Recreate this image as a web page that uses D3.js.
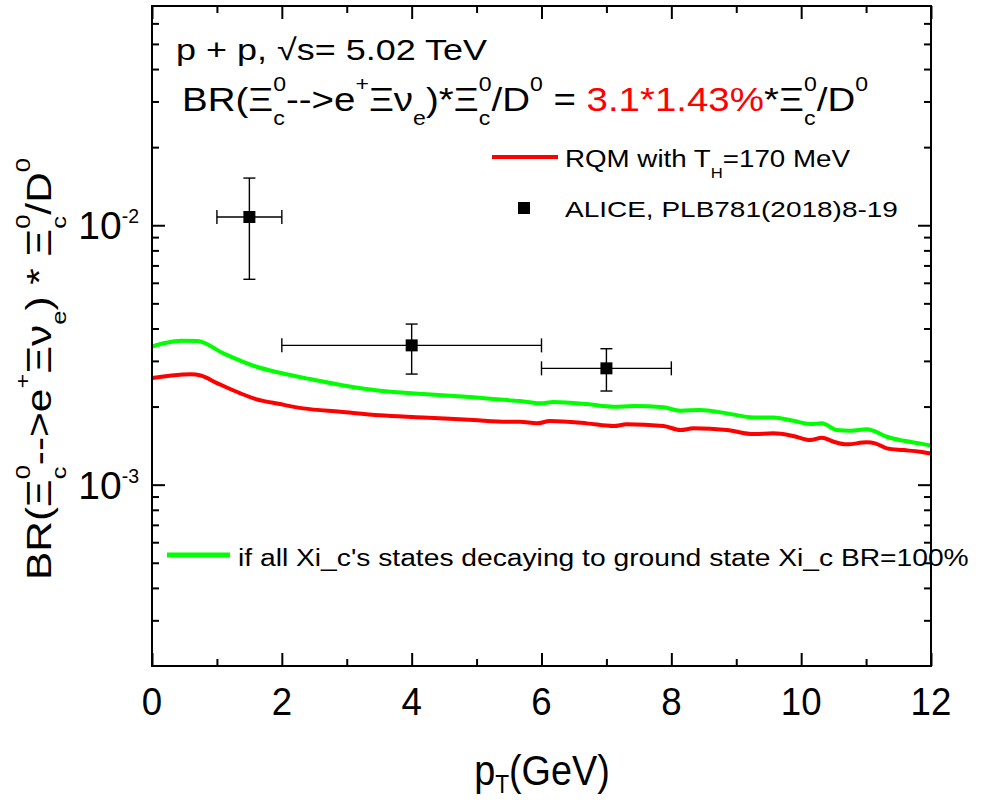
<!DOCTYPE html>
<html>
<head>
<meta charset="utf-8">
<script src="https://cdn.jsdelivr.net/npm/d3@7/dist/d3.min.js"></script>
<style>
  body { margin: 0; background: #fff; }
  text { font-family: "Liberation Sans", Arial, sans-serif; fill: #000; white-space: pre; }
</style>
</head>
<body>
<svg id="chart" width="985" height="800"></svg>
<script>
// RQM prediction, T_H = 170 MeV (red)
const rqmPt    = [0, 0.3, 0.6, 0.75, 1.0, 1.36, 1.6, 1.97, 2.33, 2.9, 3.51, 4.18, 4.95, 5.47, 5.67, 5.93, 6.13, 6.7, 7.11, 7.31, 7.88, 8.14, 8.34, 8.86, 9.27, 9.57, 9.88, 10.14, 10.32, 10.5, 10.7, 11.01, 11.14, 11.32, 11.58, 11.83, 12];
const rqmRatio = [2.576e-3, 2.634e-3, 2.662e-3, 2.634e-3, 2.464e-3, 2.249e-3, 2.138e-3, 2.045e-3, 1.968e-3, 1.910e-3, 1.850e-3, 1.817e-3, 1.774e-3, 1.748e-3, 1.748e-3, 1.723e-3, 1.759e-3, 1.723e-3, 1.683e-3, 1.708e-3, 1.683e-3, 1.624e-3, 1.649e-3, 1.624e-3, 1.567e-3, 1.577e-3, 1.540e-3, 1.486e-3, 1.517e-3, 1.464e-3, 1.430e-3, 1.456e-3, 1.443e-3, 1.380e-3, 1.359e-3, 1.339e-3, 1.318e-3];

// All excited Xi_c states feeding the ground state with BR = 100% (green)
const feedPt    = [0, 0.2, 0.45, 0.7, 1.1, 1.61, 1.97, 2.38, 3.0, 3.51, 4.18, 4.95, 5.47, 5.67, 5.98, 6.18, 6.7, 7.11, 7.42, 7.88, 8.14, 8.44, 8.86, 9.27, 9.57, 9.88, 10.14, 10.32, 10.55, 10.76, 11.01, 11.11, 11.32, 11.58, 11.83, 12];
const feedRatio = [3.407e-3, 3.514e-3, 3.587e-3, 3.578e-3, 3.208e-3, 2.848e-3, 2.700e-3, 2.569e-3, 2.400e-3, 2.302e-3, 2.235e-3, 2.171e-3, 2.119e-3, 2.100e-3, 2.058e-3, 2.082e-3, 2.045e-3, 1.997e-3, 2.009e-3, 1.986e-3, 1.928e-3, 1.940e-3, 1.883e-3, 1.817e-3, 1.817e-3, 1.763e-3, 1.713e-3, 1.723e-3, 1.624e-3, 1.614e-3, 1.634e-3, 1.614e-3, 1.530e-3, 1.476e-3, 1.443e-3, 1.415e-3];

// ALICE, PLB781(2018)8-19
const alicePt      = [1.5, 4, 7];
const alicePtLow   = [1, 2, 6];
const alicePtHigh  = [2, 6, 8];
const aliceRatio   = [1.076e-2, 3.443e-3, 2.808e-3];
const aliceLow     = [6.19e-3, 2.669e-3, 2.296e-3];
const aliceHigh    = [1.52e-2, 4.160e-3, 3.342e-3];

// Axes
const xTickValues  = [0, 2, 4, 6, 8, 10, 12];
const xMinorValues = [1, 3, 5, 7, 9, 11];
const yMajorValues = [1e-3, 1e-2];
const yMajorExps   = ["-3", "-2"];
const yMinorValues = [3e-4, 4e-4, 5e-4, 6e-4, 7e-4, 8e-4, 9e-4,
                      2e-3, 3e-3, 4e-3, 5e-3, 6e-3, 7e-3, 8e-3, 9e-3,
                      2e-2, 3e-2, 4e-2, 5e-2, 6e-2];

const svg = d3.select("#chart");
const L = 152, R = 931, T = 6, B = 666;
const x = d3.scaleLinear().domain([0, 12]).range([L, R]);
const y = d3.scaleLog().domain([2e-4, 7e-2]).range([B, T]);

// Rich text: pieces laid out left to right, with stacked sub/superscripts.
// opts.width stretches the whole run horizontally to the given length.
function rich(parent, x0, y0, pieces, size, opts = {}) {
  const outer = parent.append("g");
  const g = outer.append("g");
  let cx = 0;
  const scriptSize = size * (opts.scriptScale || 0.6);
  const subShift = size * (opts.subShift || 0.42);
  const supShift = size * (opts.supShift || 0.6);
  pieces.forEach(p => {
    const color = p.color || "#000";
    if (p.t !== undefined) {
      const t = g.append("text").attr("x", cx).attr("y", 0)
        .attr("font-size", size).style("fill", color).text(p.t);
      cx += t.node().getComputedTextLength();
    } else {
      let w = 0;
      if (p.sub !== undefined) {
        const t = g.append("text").attr("x", cx).attr("y", subShift)
          .attr("font-size", scriptSize).style("fill", color).text(p.sub);
        w = Math.max(w, t.node().getComputedTextLength());
      }
      if (p.sup !== undefined) {
        const t = g.append("text").attr("x", cx).attr("y", -supShift)
          .attr("font-size", scriptSize).style("fill", color).text(p.sup);
        w = Math.max(w, t.node().getComputedTextLength());
      }
      cx += w;
    }
  });
  const sx = opts.width ? opts.width / cx : (opts.sx || 1);
  let dx = 0;
  if (opts.anchor === "middle") dx = -cx / 2;
  if (opts.anchor === "end") dx = -cx;
  const rot = opts.rotate ? ` rotate(${opts.rotate})` : "";
  outer.attr("transform", `translate(${x0},${y0})${rot} scale(${sx},1)`);
  g.attr("transform", `translate(${dx},0)`);
  return outer;
}

// Curves
const line = d3.line().x(d => x(d[0])).y(d => y(d[1])).curve(d3.curveMonotoneX);
svg.append("path").datum(feedPt.map((p, i) => [p, feedRatio[i]]))
  .attr("d", line).attr("fill", "none").attr("stroke", "#00ff00").attr("stroke-width", 4);
svg.append("path").datum(rqmPt.map((p, i) => [p, rqmRatio[i]]))
  .attr("d", line).attr("fill", "none").attr("stroke", "#ff0000").attr("stroke-width", 4);

// ALICE points with error bars
const pts = svg.append("g").attr("stroke", "#000").attr("stroke-width", 1.4);
alicePt.forEach((p, i) => {
  const cx = x(p), cy = y(aliceRatio[i]);
  const xl = x(alicePtLow[i]), xr = x(alicePtHigh[i]);
  const yt = y(aliceHigh[i]), yb = y(aliceLow[i]);
  pts.append("line").attr("x1", xl).attr("x2", xr).attr("y1", cy).attr("y2", cy);
  pts.append("line").attr("x1", xl).attr("x2", xl).attr("y1", cy - 7).attr("y2", cy + 7);
  pts.append("line").attr("x1", xr).attr("x2", xr).attr("y1", cy - 7).attr("y2", cy + 7);
  pts.append("line").attr("x1", cx).attr("x2", cx).attr("y1", yt).attr("y2", yb);
  pts.append("line").attr("x1", cx - 6).attr("x2", cx + 6).attr("y1", yt).attr("y2", yt);
  pts.append("line").attr("x1", cx - 6).attr("x2", cx + 6).attr("y1", yb).attr("y2", yb);
  svg.append("rect").attr("x", cx - 6).attr("y", cy - 6).attr("width", 12).attr("height", 12)
    .attr("fill", "#000");
});

// Axes with inward ticks on all four sides
function styleAxis(g) {
  g.select(".domain").remove();
  g.selectAll("line").attr("stroke", "#000").attr("stroke-width", 2);
  g.selectAll("text").remove();
}
svg.append("g").attr("transform", `translate(0,${B})`)
  .call(d3.axisBottom(x).tickValues(xTickValues).tickSize(-13)).call(styleAxis);
svg.append("g").attr("transform", `translate(0,${B})`)
  .call(d3.axisBottom(x).tickValues(xMinorValues).tickSize(-7)).call(styleAxis);
svg.append("g").attr("transform", `translate(0,${T})`)
  .call(d3.axisTop(x).tickValues(xTickValues).tickSize(-13)).call(styleAxis);
svg.append("g").attr("transform", `translate(0,${T})`)
  .call(d3.axisTop(x).tickValues(xMinorValues).tickSize(-7)).call(styleAxis);
svg.append("g").attr("transform", `translate(${L},0)`)
  .call(d3.axisLeft(y).tickValues(yMajorValues).tickSize(-13)).call(styleAxis);
svg.append("g").attr("transform", `translate(${L},0)`)
  .call(d3.axisLeft(y).tickValues(yMinorValues).tickSize(-7)).call(styleAxis);
svg.append("g").attr("transform", `translate(${R},0)`)
  .call(d3.axisRight(y).tickValues(yMajorValues).tickSize(-13)).call(styleAxis);
svg.append("g").attr("transform", `translate(${R},0)`)
  .call(d3.axisRight(y).tickValues(yMinorValues).tickSize(-7)).call(styleAxis);

// Frame
svg.append("rect").attr("x", L).attr("y", T).attr("width", R - L).attr("height", B - T)
  .attr("fill", "none").attr("stroke", "#000").attr("stroke-width", 2);

// Tick labels
xTickValues.forEach(v => {
  rich(svg, x(v), 715, [{t: String(v)}], 39, {anchor: "middle", sx: 0.94});
});
yMajorValues.forEach((v, i) => {
  rich(svg, 139, y(v) + 14, [{t: "10"}, {sup: yMajorExps[i]}], 39,
    {anchor: "end", scriptScale: 0.5, supShift: 0.41});
});

// Axis titles
rich(svg, 542, 785, [{t: "p"}, {sub: "T"}, {t: "(GeV)"}], 42,
  {anchor: "middle", sx: 0.9, scriptScale: 0.6, subShift: 0.2});
rich(svg, 51, 369, [
  {t: "BR(Ξ"}, {sub: "c", sup: "0"}, {t: "-->e"}, {sup: "+"}, {t: "Ξν"}, {sub: "e"},
  {t: ") * Ξ"}, {sub: "c", sup: "0"}, {t: "/D"}, {sup: "0"}
], 35, {anchor: "middle", rotate: -90, width: 422});

// Header texts
rich(svg, 176, 60, [{t: "p + p, √s= 5.02 TeV"}], 30, {width: 311});
rich(svg, 182, 111, [
  {t: "BR(Ξ"}, {sub: "c", sup: "0"}, {t: "-->e"}, {sup: "+"}, {t: "Ξν"}, {sub: "e"},
  {t: ")*Ξ"}, {sub: "c", sup: "0"}, {t: "/D"}, {sup: "0"}, {t: " = "},
  {t: "3.1*1.43%", color: "#ff0000"},
  {t: "*Ξ"}, {sub: "c", sup: "0"}, {t: "/D"}, {sup: "0"}
], 33, {width: 686});

// Legend
svg.append("line").attr("x1", 492).attr("x2", 558).attr("y1", 157).attr("y2", 157)
  .attr("stroke", "#ff0000").attr("stroke-width", 4);
rich(svg, 565, 167, [{t: "RQM with T"}, {sub: "H"}, {t: "=170 MeV"}], 23,
  {width: 285, subShift: 0.48});
svg.append("rect").attr("x", 518).attr("y", 202).attr("width", 12).attr("height", 12).attr("fill", "#000");
rich(svg, 565, 217, [{t: "ALICE, PLB781(2018)8-19"}], 23, {width: 333});
svg.append("line").attr("x1", 167).attr("x2", 230).attr("y1", 555).attr("y2", 555)
  .attr("stroke", "#00ff00").attr("stroke-width", 5);
rich(svg, 238, 566, [{t: "if all Xi_c's states decaying to ground state Xi_c BR=100%"}], 23,
  {width: 731});
</script>
</body>
</html>
